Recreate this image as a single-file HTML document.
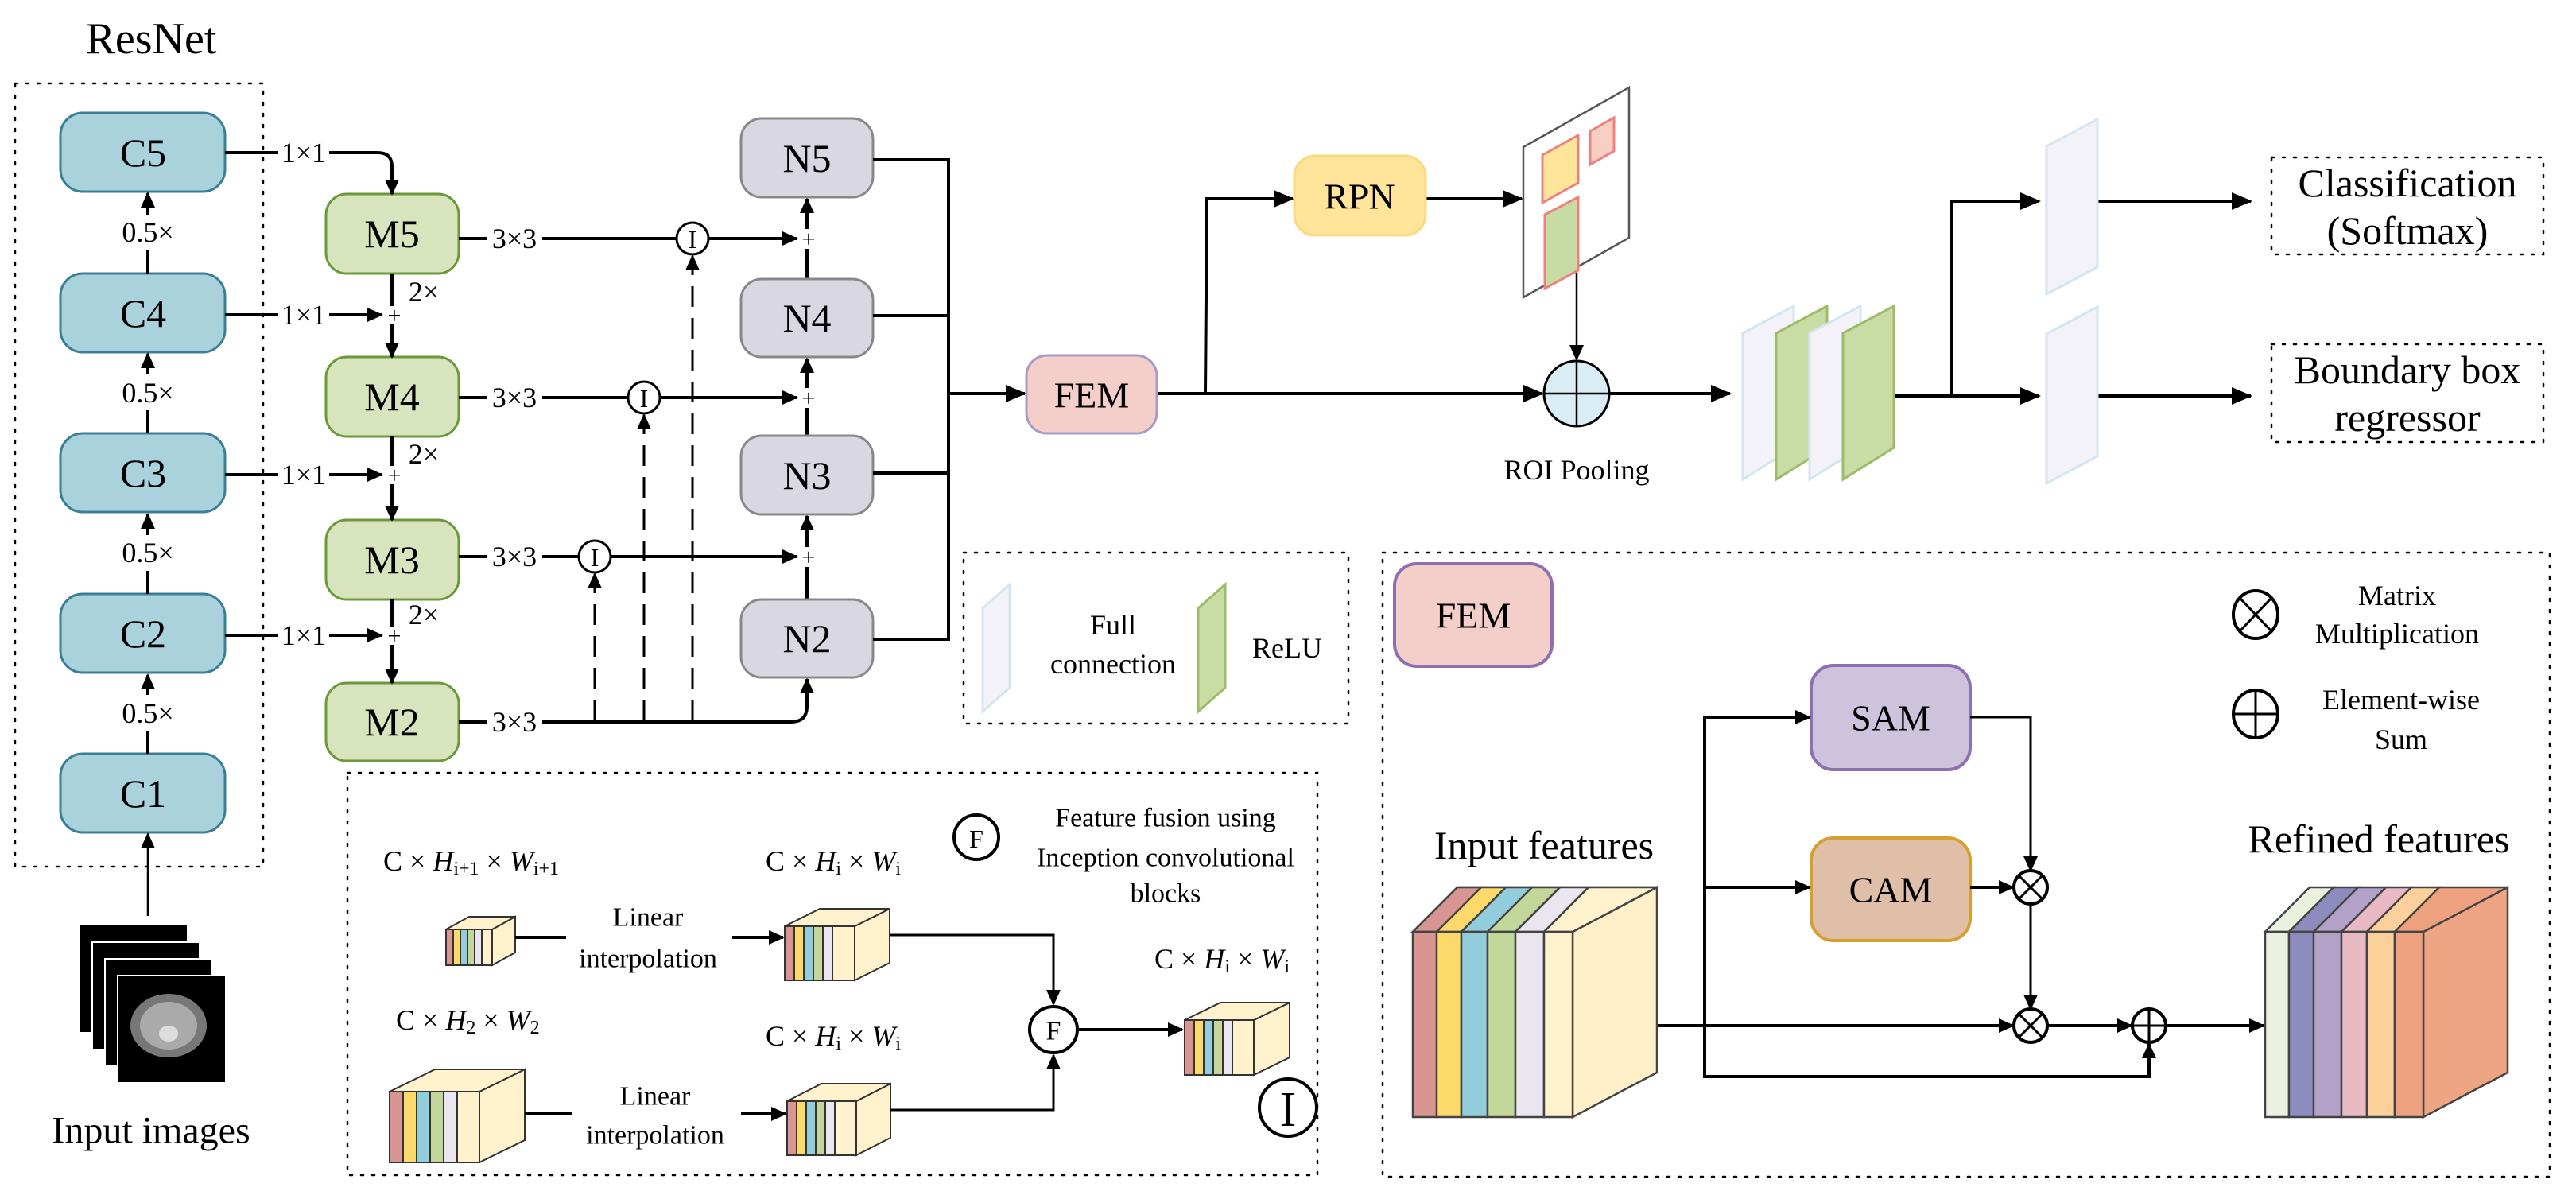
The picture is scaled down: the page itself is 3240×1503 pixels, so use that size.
<!DOCTYPE html>
<html><head><meta charset="utf-8"><style>
html,body{margin:0;padding:0;background:#fff;}
svg{display:block;}
text{font-family:"Liberation Serif",serif;fill:#000;}
</style></head><body>
<svg width="3240" height="1503" viewBox="0 0 3240 1503" xmlns="http://www.w3.org/2000/svg">
<defs>
<marker id="a" markerWidth="26" markerHeight="22" refX="24" refY="11" orient="auto" markerUnits="userSpaceOnUse"><path d="M0,0 L26,11 L0,22 z" fill="#000"/></marker>
<marker id="s" markerWidth="20" markerHeight="18" refX="18" refY="9" orient="auto" markerUnits="userSpaceOnUse"><path d="M0,0 L20,9 L0,18 z" fill="#000"/></marker>
</defs>
<g stroke="#000" fill="none" stroke-width="2.5" stroke-dasharray="3,11" stroke-linecap="round">
<rect x="19" y="105" width="312" height="985"/>
<rect x="437" y="972" width="1220" height="506"/>
<rect x="1212" y="695" width="484" height="215"/>
<rect x="1739" y="695" width="1468" height="785"/>
<rect x="2857" y="198" width="342" height="122"/>
<rect x="2857" y="433" width="342" height="123"/>
</g>
<text x="190" y="49" font-size="56" text-anchor="middle" dominant-baseline="central">ResNet</text>
<g stroke="#3a7f95" stroke-width="3" fill="#a9d2dc">
<rect x="76" y="142" width="207" height="99" rx="28"/>
<rect x="76" y="344" width="207" height="99" rx="28"/>
<rect x="76" y="545" width="207" height="99" rx="28"/>
<rect x="76" y="747" width="207" height="99" rx="28"/>
<rect x="76" y="948" width="207" height="99" rx="28"/>
</g>
<g font-size="50" text-anchor="middle" dominant-baseline="central">
<text x="180" y="192">C5</text><text x="180" y="394">C4</text><text x="180" y="595">C3</text><text x="180" y="797">C2</text><text x="180" y="998">C1</text>
</g>
<g stroke="#000" stroke-width="4" fill="none">
<line x1="186" y1="344" x2="186" y2="315"/><line x1="186" y1="270" x2="186" y2="243" marker-end="url(#s)"/>
<line x1="186" y1="545" x2="186" y2="516"/><line x1="186" y1="471" x2="186" y2="445" marker-end="url(#s)"/>
<line x1="186" y1="747" x2="186" y2="718"/><line x1="186" y1="673" x2="186" y2="647" marker-end="url(#s)"/>
<line x1="186" y1="948" x2="186" y2="919"/><line x1="186" y1="874" x2="186" y2="849" marker-end="url(#s)"/>
<line x1="186" y1="1152" x2="186" y2="1049" stroke-width="2.5" marker-end="url(#s)"/>
</g>
<g font-size="36" text-anchor="middle" dominant-baseline="central">
<text x="186" y="292">0.5×</text><text x="186" y="494">0.5×</text><text x="186" y="695">0.5×</text><text x="186" y="897">0.5×</text>
</g>
<g stroke="#6a9a3a" stroke-width="3" fill="#d7e4bd">
<rect x="410" y="244" width="167" height="100" rx="26"/>
<rect x="410" y="449" width="167" height="100" rx="26"/>
<rect x="410" y="654" width="167" height="100" rx="26"/>
<rect x="410" y="859" width="167" height="98" rx="26"/>
</g>
<g font-size="50" text-anchor="middle" dominant-baseline="central">
<text x="493" y="294">M5</text><text x="493" y="499">M4</text><text x="493" y="704">M3</text><text x="493" y="908">M2</text>
</g>
<g stroke="#000" stroke-width="4" fill="none">
<line x1="283" y1="192" x2="350" y2="192"/><path d="M414,192 H475 Q493,192 493,210 V244" marker-end="url(#s)"/>
<line x1="283" y1="396" x2="350" y2="396"/><line x1="414" y1="396" x2="480" y2="396" marker-end="url(#s)"/>
<line x1="283" y1="597" x2="350" y2="597"/><line x1="414" y1="597" x2="480" y2="597" marker-end="url(#s)"/>
<line x1="283" y1="799" x2="350" y2="799"/><line x1="414" y1="799" x2="480" y2="799" marker-end="url(#s)"/>
<line x1="493" y1="344" x2="493" y2="385"/><line x1="493" y1="408" x2="493" y2="449" marker-end="url(#s)"/>
<line x1="493" y1="549" x2="493" y2="586"/><line x1="493" y1="609" x2="493" y2="654" marker-end="url(#s)"/>
<line x1="493" y1="754" x2="493" y2="788"/><line x1="493" y1="811" x2="493" y2="859" marker-end="url(#s)"/>
<line x1="577" y1="300" x2="612" y2="300"/><line x1="682" y1="300" x2="851" y2="300"/><line x1="891" y1="300" x2="1002" y2="300" marker-end="url(#s)"/>
<line x1="577" y1="500" x2="612" y2="500"/><line x1="682" y1="500" x2="790" y2="500"/><line x1="830" y1="500" x2="1002" y2="500" marker-end="url(#s)"/>
<line x1="577" y1="700" x2="612" y2="700"/><line x1="682" y1="700" x2="728" y2="700"/><line x1="768" y1="700" x2="1002" y2="700" marker-end="url(#s)"/>
<line x1="577" y1="908" x2="612" y2="908"/><path d="M682,908 H995 Q1015,908 1015,888 V854" marker-end="url(#s)"/>
<line x1="1015" y1="351" x2="1015" y2="313"/><line x1="1015" y1="288" x2="1015" y2="250" marker-end="url(#s)"/>
<line x1="1015" y1="548" x2="1015" y2="513"/><line x1="1015" y1="488" x2="1015" y2="451" marker-end="url(#s)"/>
<line x1="1015" y1="754" x2="1015" y2="713"/><line x1="1015" y1="688" x2="1015" y2="649" marker-end="url(#s)"/>
<g stroke-width="3" stroke-dasharray="26,14">
<line x1="748" y1="906" x2="748" y2="722" marker-end="url(#s)"/>
<line x1="810" y1="906" x2="810" y2="522" marker-end="url(#s)"/>
<line x1="871" y1="906" x2="871" y2="322" marker-end="url(#s)"/>
</g>
</g>
<g font-size="36" text-anchor="middle" dominant-baseline="central">
<text x="382" y="192">1×1</text><text x="382" y="396">1×1</text><text x="382" y="597">1×1</text><text x="382" y="799">1×1</text>
<text x="647" y="300">3×3</text><text x="647" y="500">3×3</text><text x="647" y="700">3×3</text><text x="647" y="908">3×3</text>
<text x="533" y="367">2×</text><text x="533" y="571">2×</text><text x="533" y="773">2×</text>
<text x="496" y="397" font-size="30">+</text><text x="496" y="598" font-size="30">+</text><text x="496" y="800" font-size="30">+</text>
<text x="1017" y="301" font-size="30">+</text><text x="1017" y="501" font-size="30">+</text><text x="1017" y="701" font-size="30">+</text>
</g>
<g stroke="#000" stroke-width="3" fill="#fff">
<ellipse cx="871" cy="300" rx="20" ry="20"/><ellipse cx="810" cy="500" rx="20" ry="20"/><ellipse cx="748" cy="700" rx="20" ry="20"/>
</g>
<g font-size="32" text-anchor="middle" dominant-baseline="central">
<text x="871" y="301">I</text><text x="810" y="501">I</text><text x="748" y="701">I</text>
</g>
<g stroke="#888" stroke-width="3" fill="#d9d8e2">
<rect x="932" y="149" width="166" height="99" rx="26"/>
<rect x="932" y="351" width="166" height="98" rx="26"/>
<rect x="932" y="548" width="166" height="99" rx="26"/>
<rect x="932" y="754" width="166" height="98" rx="26"/>
</g>
<g font-size="50" text-anchor="middle" dominant-baseline="central">
<text x="1015" y="199">N5</text><text x="1015" y="400">N4</text><text x="1015" y="598">N3</text><text x="1015" y="803">N2</text>
</g>
<g stroke="#000" stroke-width="4" fill="none">
<polyline points="1098,201 1193,201 1193,804 1098,804"/>
<line x1="1098" y1="397" x2="1193" y2="397"/><line x1="1098" y1="595" x2="1193" y2="595"/>
<line x1="1193" y1="495" x2="1289" y2="495" marker-end="url(#a)"/>
<line x1="1455" y1="495" x2="1940" y2="495" marker-end="url(#a)"/>
<polyline points="1516,495 1518,250 1626,250" marker-end="url(#a)"/>
<line x1="1793" y1="250" x2="1914" y2="250" marker-end="url(#a)"/>
<line x1="1983" y1="336" x2="1983" y2="452" stroke-width="2.5" marker-end="url(#s)"/>
<line x1="2024" y1="495" x2="2176" y2="495" marker-end="url(#a)"/>
<line x1="2382" y1="498" x2="2565" y2="498" marker-end="url(#a)"/>
<polyline points="2455,498 2455,253 2565,253" marker-end="url(#a)"/>
<line x1="2638" y1="253" x2="2831" y2="253" marker-end="url(#a)"/>
<line x1="2638" y1="498" x2="2831" y2="498" marker-end="url(#a)"/>
</g>
<rect x="1291" y="447" width="164" height="98" rx="26" fill="#f4cfc9" stroke="#a89ac8" stroke-width="3"/>
<text x="1373" y="497" font-size="46" text-anchor="middle" dominant-baseline="central">FEM</text>
<rect x="1628" y="196" width="165" height="100" rx="26" fill="#fee599" stroke="#fbd87a" stroke-width="3"/>
<text x="1710" y="247" font-size="46" text-anchor="middle" dominant-baseline="central">RPN</text>
<polygon points="1916,185 2049,110 2049,299 1916,374" fill="#fff" stroke="#555" stroke-width="2.5"/>
<polygon points="1940,195 1985,170 1985,230 1940,255" fill="#fee599" stroke="#f08080" stroke-width="3"/>
<polygon points="2000,165 2030,148 2030,190 2000,207" fill="#f8cfc4" stroke="#f08080" stroke-width="3"/>
<polygon points="1943,270 1985,248 1985,340 1943,363" fill="#c7dca3" stroke="#f08080" stroke-width="3"/>
<ellipse cx="1983" cy="495" rx="41" ry="41" fill="#d8eef4" stroke="#000" stroke-width="3"/>
<line x1="1983" y1="454" x2="1983" y2="536" stroke="#000" stroke-width="2.5"/>
<line x1="1942" y1="495" x2="2024" y2="495" stroke="#000" stroke-width="2.5"/>
<text x="1983" y="591" font-size="36" text-anchor="middle" dominant-baseline="central">ROI Pooling</text>
<g stroke-width="3">
<polygon points="2192,419 2256,385 2256,563 2192,603" fill="#f3f2f9" stroke="#d4e6f0"/>
<polygon points="2234,419 2298,385 2298,563 2234,603" fill="#c9dca3" stroke="#9dbb6a"/>
<polygon points="2276,419 2340,385 2340,563 2276,603" fill="#f3f2f9" stroke="#d4e6f0"/>
<polygon points="2318,419 2382,385 2382,563 2318,603" fill="#c9dca3" stroke="#9dbb6a"/>
<polygon points="2574,184 2638,150 2638,336 2574,370" fill="#f3f2f9" stroke="#d4e6f0"/>
<polygon points="2574,420 2638,386 2638,574 2574,608" fill="#f3f2f9" stroke="#d4e6f0"/>
<polygon points="1236,765 1270,735 1270,865 1236,895" fill="#f3f2f9" stroke="#d4e6f0"/>
<polygon points="1507,765 1541,735 1541,865 1507,895" fill="#c9dca3" stroke="#9dbb6a"/>
</g>
<g font-size="50" text-anchor="middle" dominant-baseline="central">
<text x="3028" y="230">Classification</text><text x="3028" y="290">(Softmax)</text>
<text x="3028" y="465">Boundary box</text><text x="3028" y="525">regressor</text>
</g>
<g font-size="36" text-anchor="middle" dominant-baseline="central">
<text x="1400" y="786">Full</text><text x="1400" y="835">connection</text><text x="1619" y="815">ReLU</text>
</g>
<!-- FEM detail -->
<rect x="1754" y="709" width="198" height="129" rx="28" fill="#f4cfc9" stroke="#8e6fb0" stroke-width="4"/>
<text x="1853" y="774" font-size="46" text-anchor="middle" dominant-baseline="central">FEM</text>
<rect x="2278" y="837" width="200" height="131" rx="28" fill="#cdc3dc" stroke="#8e6fb0" stroke-width="4"/>
<text x="2378" y="903" font-size="46" text-anchor="middle" dominant-baseline="central">SAM</text>
<rect x="2278" y="1054" width="200" height="129" rx="28" fill="#dfbfa8" stroke="#d5a030" stroke-width="4"/>
<text x="2378" y="1119" font-size="46" text-anchor="middle" dominant-baseline="central">CAM</text>
<g font-size="36" text-anchor="middle" dominant-baseline="central">
<text x="3015" y="749">Matrix</text><text x="3015" y="797">Multiplication</text>
<text x="3020" y="880">Element-wise</text><text x="3020" y="930">Sum</text>
</g>
<g stroke="#000" stroke-width="4" fill="none">
<line x1="1978" y1="1290" x2="2532" y2="1290" marker-end="url(#s)"/>
<polyline points="2144,1116 2144,902 2276,902" marker-end="url(#s)"/>
<line x1="2144" y1="1116" x2="2276" y2="1116" marker-end="url(#s)"/>
<polyline points="2144,1116 2144,1354 2703,1354 2703,1313" marker-end="url(#s)"/>
<polyline points="2478,902 2554,902 2554,1095" stroke-width="3" marker-end="url(#s)"/>
<line x1="2478" y1="1116" x2="2532" y2="1116" marker-end="url(#s)"/>
<line x1="2554" y1="1137" x2="2554" y2="1269" stroke-width="3" marker-end="url(#s)"/>
<line x1="2576" y1="1290" x2="2681" y2="1290" marker-end="url(#s)"/>
<line x1="2725" y1="1290" x2="2847" y2="1290" marker-end="url(#s)"/>
</g>
<g stroke="#000" stroke-width="4" fill="#fff">
<ellipse cx="2554" cy="1116" rx="21" ry="21"/><ellipse cx="2554" cy="1290" rx="21" ry="21"/><ellipse cx="2703" cy="1290" rx="21" ry="21"/>
<ellipse cx="2837" cy="773" rx="28" ry="30"/><ellipse cx="2837" cy="898" rx="28" ry="30"/>
</g>
<g stroke="#000" stroke-width="3">
<line x1="2539" y1="1101" x2="2569" y2="1131"/><line x1="2569" y1="1101" x2="2539" y2="1131"/>
<line x1="2539" y1="1275" x2="2569" y2="1305"/><line x1="2569" y1="1275" x2="2539" y2="1305"/>
<line x1="2703" y1="1269" x2="2703" y2="1311"/><line x1="2682" y1="1290" x2="2724" y2="1290"/>
<line x1="2817" y1="752" x2="2857" y2="794"/><line x1="2857" y1="752" x2="2817" y2="794"/>
<line x1="2837" y1="868" x2="2837" y2="928"/><line x1="2809" y1="898" x2="2865" y2="898"/>
</g>
<text x="1942" y="1063" font-size="50" text-anchor="middle" dominant-baseline="central">Input features</text>
<text x="2992" y="1055" font-size="50" text-anchor="middle" dominant-baseline="central">Refined features</text>
<!-- input features cube -->
<g stroke="#444" stroke-width="2.5">
<polygon points="1777,1172 1833,1116 2084,1116 2028,1172" fill="#fff2cc"/>
<polygon points="1978,1172 2084,1116 2084,1349 1978,1405" fill="#fff0c9"/>
<polygon points="1777,1172 1833,1116 1863,1116 1807,1172" fill="#d99591"/>
<polygon points="1807,1172 1863,1116 1894,1116 1838,1172" fill="#fcd96a"/>
<polygon points="1838,1172 1894,1116 1927,1116 1871,1172" fill="#92cddc"/>
<polygon points="1871,1172 1927,1116 1962,1116 1906,1172" fill="#c4d79b"/>
<polygon points="1906,1172 1962,1116 1998,1116 1942,1172" fill="#e9e6f0"/>
<polygon points="1942,1172 1998,1116 2084,1116 1978,1172" fill="#fff2cc"/>
<rect x="1777" y="1172" width="30" height="233" fill="#d99591"/>
<rect x="1807" y="1172" width="31" height="233" fill="#fcd96a"/>
<rect x="1838" y="1172" width="33" height="233" fill="#92cddc"/>
<rect x="1871" y="1172" width="35" height="233" fill="#c4d79b"/>
<rect x="1906" y="1172" width="36" height="233" fill="#e9e6f0"/>
<rect x="1942" y="1172" width="36" height="233" fill="#fff2cc"/>
</g>
<!-- refined cube -->
<g stroke="#444" stroke-width="2.5">
<polygon points="3048,1172 3154,1116 3154,1349 3048,1405" fill="#eea583"/>
<polygon points="2849,1172 2905,1116 2935,1116 2879,1172" fill="#ebf1de"/>
<polygon points="2879,1172 2935,1116 2966,1116 2910,1172" fill="#8e8cbf"/>
<polygon points="2910,1172 2966,1116 3001,1116 2945,1172" fill="#b3a2c7"/>
<polygon points="2945,1172 3001,1116 3033,1116 2977,1172" fill="#e6b9c3"/>
<polygon points="2977,1172 3033,1116 3068,1116 3012,1172" fill="#fcd09b"/>
<polygon points="3012,1172 3068,1116 3154,1116 3048,1172" fill="#eea17f"/>
<rect x="2849" y="1172" width="30" height="233" fill="#ebf1de"/>
<rect x="2879" y="1172" width="31" height="233" fill="#8e8cbf"/>
<rect x="2910" y="1172" width="35" height="233" fill="#b3a2c7"/>
<rect x="2945" y="1172" width="32" height="233" fill="#e6b9c3"/>
<rect x="2977" y="1172" width="35" height="233" fill="#fcd09b"/>
<rect x="3012" y="1172" width="36" height="233" fill="#eea17f"/>
</g>
<!-- inception module -->
<g id="cube">
</g>
<g stroke="#333" stroke-width="2">
<!-- small cube -->
<polygon points="619,1169 648,1153 648,1198 619,1214" fill="#fff2cc"/>
<polygon points="561,1169 590,1153 648,1153 619,1169" fill="#fff2cc"/>
<rect x="561" y="1169" width="9" height="45" fill="#d99591"/><rect x="570" y="1169" width="9" height="45" fill="#fcd96a"/><rect x="579" y="1169" width="9" height="45" fill="#92cddc"/><rect x="588" y="1169" width="9" height="45" fill="#c4d79b"/><rect x="597" y="1169" width="9" height="45" fill="#e9e6f0"/><rect x="606" y="1169" width="13" height="45" fill="#fff2cc"/>
<!-- cube upper Hi -->
<polygon points="1075,1165 1119,1143 1119,1211 1075,1233" fill="#fff2cc"/>
<polygon points="987,1165 1031,1143 1119,1143 1075,1165" fill="#fff2cc"/>
<rect x="987" y="1165" width="12" height="68" fill="#d99591"/><rect x="999" y="1165" width="12" height="68" fill="#fcd96a"/><rect x="1011" y="1165" width="12" height="68" fill="#92cddc"/><rect x="1023" y="1165" width="12" height="68" fill="#c4d79b"/><rect x="1035" y="1165" width="12" height="68" fill="#e9e6f0"/><rect x="1047" y="1165" width="28" height="68" fill="#fff2cc"/>
<!-- cube lower Hi -->
<polygon points="1077,1385 1120,1363 1120,1431 1077,1453" fill="#fff2cc"/>
<polygon points="990,1385 1033,1363 1120,1363 1077,1385" fill="#fff2cc"/>
<rect x="990" y="1385" width="12" height="68" fill="#d99591"/><rect x="1002" y="1385" width="12" height="68" fill="#fcd96a"/><rect x="1014" y="1385" width="12" height="68" fill="#92cddc"/><rect x="1026" y="1385" width="12" height="68" fill="#c4d79b"/><rect x="1038" y="1385" width="12" height="68" fill="#e9e6f0"/><rect x="1050" y="1385" width="27" height="68" fill="#fff2cc"/>
<!-- output cube -->
<polygon points="1577,1283 1622,1261 1622,1330 1577,1352" fill="#fff2cc"/>
<polygon points="1490,1283 1535,1261 1622,1261 1577,1283" fill="#fff2cc"/>
<rect x="1490" y="1283" width="12" height="69" fill="#d99591"/><rect x="1502" y="1283" width="12" height="69" fill="#fcd96a"/><rect x="1514" y="1283" width="12" height="69" fill="#92cddc"/><rect x="1526" y="1283" width="12" height="69" fill="#c4d79b"/><rect x="1538" y="1283" width="12" height="69" fill="#e9e6f0"/><rect x="1550" y="1283" width="27" height="69" fill="#fff2cc"/>
<!-- big cube -->
<polygon points="603,1373 660,1345 660,1434 603,1462" fill="#fff2cc"/>
<polygon points="490,1373 547,1345 660,1345 603,1373" fill="#fff2cc"/>
<rect x="490" y="1373" width="17" height="89" fill="#d99591"/><rect x="507" y="1373" width="17" height="89" fill="#fcd96a"/><rect x="524" y="1373" width="17" height="89" fill="#92cddc"/><rect x="541" y="1373" width="17" height="89" fill="#c4d79b"/><rect x="558" y="1373" width="17" height="89" fill="#e9e6f0"/><rect x="575" y="1373" width="28" height="89" fill="#fff2cc"/>
</g>
<g stroke="#000" stroke-width="4" fill="none">
<line x1="648" y1="1179" x2="712" y2="1179"/><line x1="921" y1="1179" x2="985" y2="1179" marker-end="url(#s)"/>
<line x1="660" y1="1401" x2="720" y2="1401"/><line x1="932" y1="1401" x2="988" y2="1401" marker-end="url(#s)"/>
<polyline points="1119,1176 1325,1176 1325,1263" stroke-width="3" marker-end="url(#s)"/>
<polyline points="1120,1396 1325,1396 1325,1327" stroke-width="3" marker-end="url(#s)"/>
<line x1="1355" y1="1295" x2="1487" y2="1295" marker-end="url(#s)"/>
</g>
<g stroke="#000" stroke-width="4" fill="#fff">
<ellipse cx="1325" cy="1295" rx="30" ry="29"/>
<ellipse cx="1228" cy="1053" rx="28" ry="28"/>
<ellipse cx="1620" cy="1393" rx="36" ry="36"/>
</g>
<g font-family="Liberation Sans, sans-serif">
<text x="1325" y="1297" font-size="34" text-anchor="middle" dominant-baseline="central" font-family="Liberation Sans, sans-serif">F</text>
<text x="1228" y="1055" font-size="32" text-anchor="middle" dominant-baseline="central" font-family="Liberation Sans, sans-serif">F</text>
</g>
<text x="1620" y="1396" font-size="62" text-anchor="middle" dominant-baseline="central">I</text>
<g font-size="34" text-anchor="middle" dominant-baseline="central">
<text x="1466" y="1029">Feature fusion using</text>
<text x="1466" y="1079">Inception convolutional</text>
<text x="1466" y="1124">blocks</text>
<text x="815" y="1154">Linear</text><text x="815" y="1206">interpolation</text>
<text x="824" y="1379">Linear</text><text x="824" y="1428">interpolation</text>
</g>
<g font-size="36" dominant-baseline="central">
<text x="482" y="1083">C × <tspan font-style="italic">H</tspan><tspan font-size="24" dy="10">i+1</tspan><tspan dy="-10"> × </tspan><tspan font-style="italic">W</tspan><tspan font-size="24" dy="10">i+1</tspan></text>
<text x="963" y="1083">C × <tspan font-style="italic">H</tspan><tspan font-size="24" dy="10">i</tspan><tspan dy="-10"> × </tspan><tspan font-style="italic">W</tspan><tspan font-size="24" dy="10">i</tspan></text>
<text x="498" y="1283">C × <tspan font-style="italic">H</tspan><tspan font-size="24" dy="10">2</tspan><tspan dy="-10"> × </tspan><tspan font-style="italic">W</tspan><tspan font-size="24" dy="10">2</tspan></text>
<text x="963" y="1303">C × <tspan font-style="italic">H</tspan><tspan font-size="24" dy="10">i</tspan><tspan dy="-10"> × </tspan><tspan font-style="italic">W</tspan><tspan font-size="24" dy="10">i</tspan></text>
<text x="1452" y="1206">C × <tspan font-style="italic">H</tspan><tspan font-size="24" dy="10">i</tspan><tspan dy="-10"> × </tspan><tspan font-style="italic">W</tspan><tspan font-size="24" dy="10">i</tspan></text>
</g>
<!-- input images -->
<g>
<rect x="100" y="1163" width="135" height="135" fill="#000"/>
<rect x="116" y="1185" width="135" height="135" fill="#000" stroke="#fff" stroke-width="2"/>
<rect x="132" y="1206" width="135" height="135" fill="#000" stroke="#fff" stroke-width="2"/>
<rect x="148" y="1227" width="136" height="135" fill="#000" stroke="#fff" stroke-width="2"/>
<ellipse cx="212" cy="1290" rx="48" ry="40" fill="#777"/>
<ellipse cx="212" cy="1290" rx="36" ry="30" fill="#aaa"/>
<ellipse cx="212" cy="1300" rx="12" ry="10" fill="#ddd"/>
</g>
<text x="190" y="1422" font-size="48" text-anchor="middle" dominant-baseline="central">Input images</text>
</svg>
</body></html>
